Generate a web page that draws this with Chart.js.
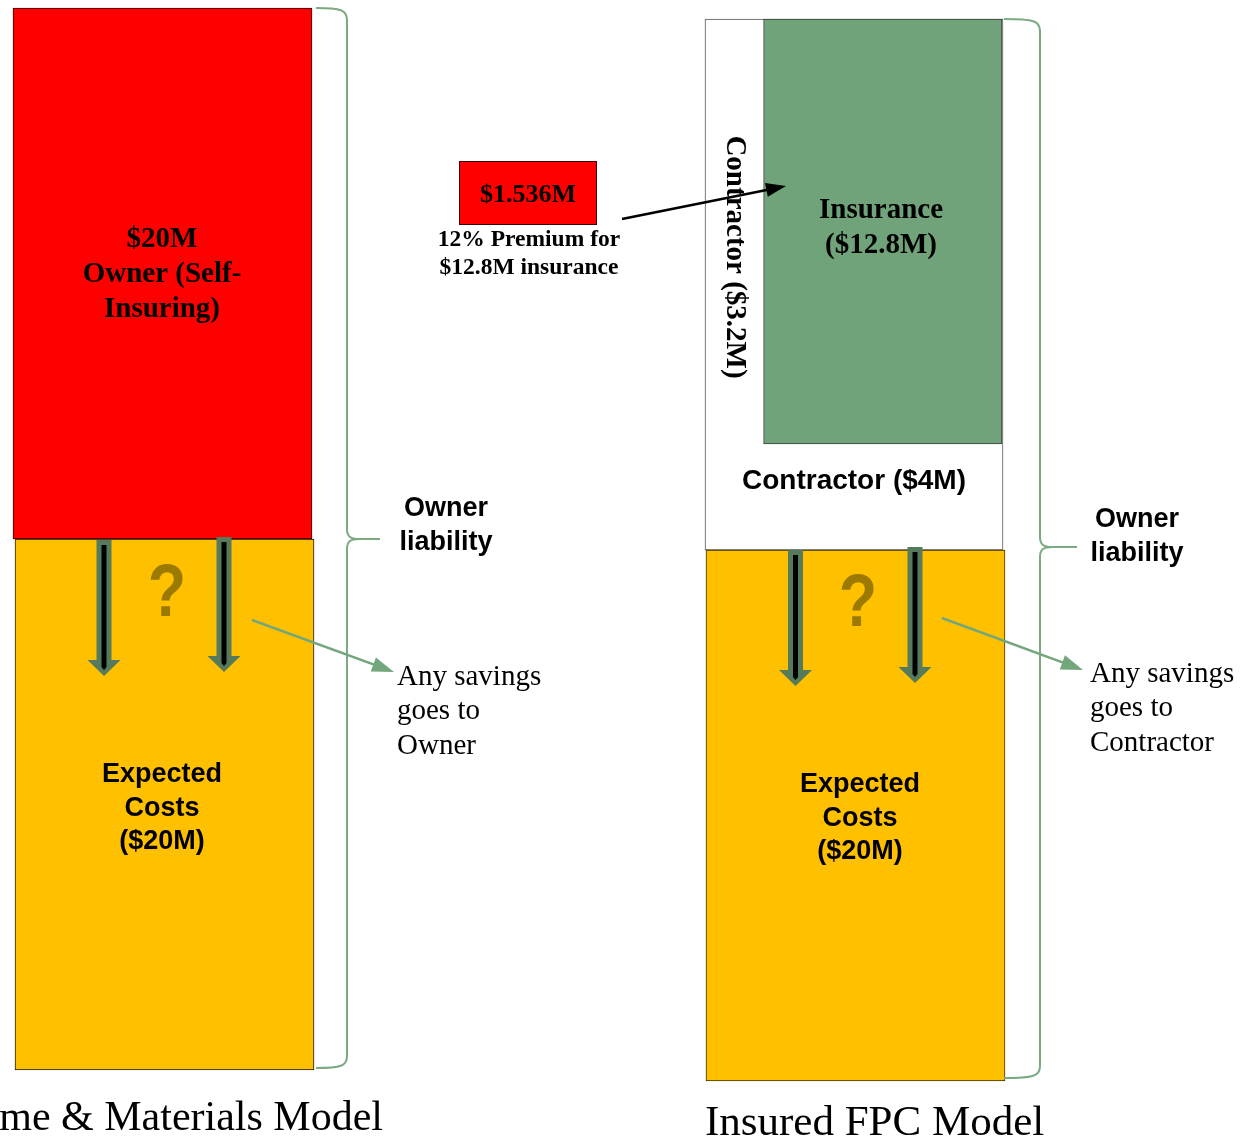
<!DOCTYPE html>
<html><head><meta charset="utf-8">
<script src="https://cdn.jsdelivr.net/npm/chart.js@4.4.1/dist/chart.umd.min.js"></script>
<style>html,body{margin:0;padding:0;background:#fff;overflow:hidden}canvas{display:block}</style>
</head><body>
<canvas id="c" width="1249" height="1140"></canvas>
<script>
// ---- data ($M) ----
const models = ['Time & Materials Model', 'Insured FPC Model'];
const expectedCosts = [20, 20];
const ownerSelfInsured = [20, 0];
const contractorFee = [0, 4];
const contractorRisk = [0, 3.2];
const insuredRisk = [0, 12.8];
const premiumRate = 0.12;
const premium = 1.536;
const savingsTo = ['Owner', 'Contractor'];

// ---- layout ----
const W = 1249, H = 1140;
const unit = 1062 / 40;                 // px per $M
const topPx = [8, 19];                  // top of each column
const totalL = expectedCosts[0] + ownerSelfInsured[0];
const totalR = expectedCosts[1] + contractorFee[1] + contractorRisk[1] + insuredRisk[1];
const yMaxL = totalL + topPx[0] / unit, yMinL = yMaxL - H / unit;
const yMaxR = totalR + topPx[1] / unit, yMinR = yMaxR - H / unit;

const colW = 299;
const blockLeft = 705, blockW = 298;
const insW = blockW * insuredRisk[1] / (contractorRisk[1] + insuredRisk[1]);
const insCenter = blockLeft + blockW - 1 - insW / 2;

const YELLOW = '#FFC000', RED = '#FF0000', GREEN = '#71A37A';

// lower "order" is drawn on top
const datasets = [
  { label: 'Insurance', order: 0, data: [{x: insCenter, y: [expectedCosts[1] + contractorFee[1], totalR]}], yAxisID: 'y2',
    backgroundColor: GREEN, borderColor: '#3c3c3c', barThickness: insW },
  { label: 'Contractor', order: 1, data: [{x: blockLeft + blockW / 2, y: [expectedCosts[1], totalR]}], yAxisID: 'y2',
    backgroundColor: '#FFFFFF', borderColor: '#555555', barThickness: blockW },
  { label: 'Expected Costs', order: 2, data: [{x: 855.5, y: [0, expectedCosts[1]]}], yAxisID: 'y2',
    backgroundColor: YELLOW, borderColor: '#3a3000', barThickness: colW },
  { label: 'Owner (Self-Insuring)', order: 2, data: [{x: 162.5, y: [expectedCosts[0], expectedCosts[0] + ownerSelfInsured[0]]}], yAxisID: 'y',
    backgroundColor: RED, borderColor: '#3a0000', barThickness: colW },
  { label: 'Expected Costs', order: 3, data: [{x: 164.5, y: [0, expectedCosts[0]]}], yAxisID: 'y',
    backgroundColor: YELLOW, borderColor: '#1a1a1a', barThickness: colW }
].map(d => Object.assign(d, { borderWidth: 1, borderSkipped: false, grouped: false }));

function brace(ctx, xs, xv, xt, top, mid, bot) {
  ctx.beginPath();
  ctx.moveTo(xs, top);
  ctx.bezierCurveTo(xv - 6, top, xv, top + 2, xv, top + 12);
  ctx.lineTo(xv, mid - 10);
  ctx.bezierCurveTo(xv, mid - 2, xv + 4, mid, xv + 12, mid);
  ctx.lineTo(xt, mid);
  ctx.moveTo(xv + 12, mid);
  ctx.bezierCurveTo(xv + 4, mid, xv, mid + 2, xv, mid + 10);
  ctx.lineTo(xv, bot - 12);
  ctx.bezierCurveTo(xv, bot - 2, xv - 6, bot, xs, bot);
  ctx.stroke();
}
function arrow(ctx, x1, y1, x2, y2, color, lw, hl, hw) {
  const a = Math.atan2(y2 - y1, x2 - x1);
  ctx.save();
  ctx.strokeStyle = color; ctx.fillStyle = color; ctx.lineWidth = lw;
  ctx.beginPath(); ctx.moveTo(x1, y1);
  ctx.lineTo(x2 - Math.cos(a) * hl * 0.8, y2 - Math.sin(a) * hl * 0.8); ctx.stroke();
  ctx.translate(x2, y2); ctx.rotate(a);
  ctx.beginPath(); ctx.moveTo(0, 0); ctx.lineTo(-hl, -hw / 2); ctx.lineTo(-hl, hw / 2); ctx.closePath(); ctx.fill();
  ctx.restore();
}
function downArrow(ctx, x, top, tip) {
  const headH = 16, headW = 33, sw = 15;
  ctx.fillStyle = '#557A5C';
  ctx.fillRect(x - sw / 2, top, sw, tip - headH - top + 1);
  ctx.beginPath(); ctx.moveTo(x - headW / 2, tip - headH); ctx.lineTo(x + headW / 2, tip - headH); ctx.lineTo(x, tip); ctx.closePath(); ctx.fill();
  ctx.fillStyle = '#000';
  ctx.fillRect(x - 2.5, top + 5, 5, tip - top - 14);
  ctx.beginPath(); ctx.moveTo(x - 2.5, tip - 9); ctx.lineTo(x + 2.5, tip - 9); ctx.lineTo(x, tip - 6); ctx.closePath(); ctx.fill();
}
function lines(ctx, arr, x, y0, lh) { arr.forEach((t, i) => ctx.fillText(t, x, y0 + i * lh)); }
function question(ctx, x, y) {
  ctx.save(); ctx.translate(x, y); ctx.scale(0.85, 1);
  ctx.fillStyle = '#9C7A00'; ctx.font = 'bold 74px "Liberation Sans", Arial, sans-serif';
  ctx.textAlign = 'center'; ctx.textBaseline = 'middle';
  ctx.fillText('?', 0, 0); ctx.restore();
}

const SERIF = '"Liberation Serif", "Times New Roman", serif';
const SANS = '"Liberation Sans", Arial, sans-serif';

const overlay = {
  id: 'overlay',
  afterDatasetsDraw(chart) {
    const ctx = chart.ctx, y = chart.scales.y, y2 = chart.scales.y2;
    ctx.save();
    // braces
    ctx.strokeStyle = '#7AA982'; ctx.lineWidth = 2;
    brace(ctx, 316, 347, 380, y.getPixelForValue(totalL), y.getPixelForValue(expectedCosts[0]), y.getPixelForValue(0) - 2);
    brace(ctx, 1004, 1040, 1077, y2.getPixelForValue(totalR), y2.getPixelForValue(expectedCosts[1]) - 3, y2.getPixelForValue(0) - 3);
    // down arrows + question marks
    downArrow(ctx, 104, 540, 676); downArrow(ctx, 224, 537, 672);
    downArrow(ctx, 795.5, 550, 686); downArrow(ctx, 915, 547, 683);
    question(ctx, 167, 596); question(ctx, 858, 606);
    // pointer arrows
    arrow(ctx, 252, 620, 394, 672, '#74A67C', 2.5, 22, 15);
    arrow(ctx, 942, 618, 1083, 670, '#74A67C', 2.5, 22, 15);
    // premium box
    ctx.fillStyle = RED; ctx.fillRect(459, 161, 138, 64);
    ctx.strokeStyle = '#3a0000'; ctx.lineWidth = 1; ctx.strokeRect(459.5, 161.5, 137, 63);
    arrow(ctx, 622, 219, 786, 186, '#000', 2.5, 20, 14);

    ctx.fillStyle = '#000'; ctx.textAlign = 'center'; ctx.textBaseline = 'middle';
    ctx.font = 'bold 26px ' + SERIF;
    ctx.fillText('$' + premium + 'M', 528, 195);
    ctx.font = 'bold 23.5px ' + SERIF;
    lines(ctx, [Math.round(premiumRate * 100) + '% Premium for', '$' + insuredRisk[1] + 'M insurance'], 529, 240, 28);
    ctx.font = 'bold 29px ' + SERIF;
    lines(ctx, ['$' + ownerSelfInsured[0] + 'M', 'Owner (Self-', 'Insuring)'], 162, 240, 35);
    lines(ctx, ['Insurance', '($' + insuredRisk[1] + 'M)'], 881, 211, 35);
    ctx.save(); ctx.translate(734, 257); ctx.rotate(Math.PI / 2);
    ctx.fillText('Contractor ($' + contractorRisk[1] + 'M)', 0, 0); ctx.restore();

    ctx.font = 'bold 28px ' + SANS;
    ctx.fillText('Contractor ($' + contractorFee[1] + 'M)', 854, 481);
    ctx.font = 'bold 27px ' + SANS;
    lines(ctx, ['Expected', 'Costs', '($' + expectedCosts[0] + 'M)'], 162, 775, 33.5);
    lines(ctx, ['Expected', 'Costs', '($' + expectedCosts[1] + 'M)'], 860, 785, 33.5);
    lines(ctx, ['Owner', 'liability'], 446, 509, 34);
    lines(ctx, ['Owner', 'liability'], 1137, 520, 34);

    ctx.textAlign = 'left';
    ctx.font = '29px ' + SERIF;
    lines(ctx, ['Any savings', 'goes to', savingsTo[0]], 397, 677, 34.5);
    lines(ctx, ['Any savings', 'goes to', savingsTo[1]], 1090, 674, 34.5);

    ctx.textBaseline = 'alphabetic';
    ctx.textAlign = 'right'; ctx.font = '42px ' + SERIF;
    ctx.fillText(models[0], 383, 1130);
    ctx.textAlign = 'left'; ctx.font = '43px ' + SERIF;
    ctx.fillText(models[1], 705, 1135);
    ctx.restore();
  }
};

new Chart(document.getElementById('c'), {
  type: 'bar',
  data: { datasets },
  options: {
    responsive: false, maintainAspectRatio: false, animation: false, devicePixelRatio: 1,
    events: [],
    layout: { padding: 0 },
    plugins: { legend: { display: false }, tooltip: { enabled: false } },
    scales: {
      x: { type: 'linear', min: 0, max: W, display: false, offset: false },
      y: { type: 'linear', min: yMinL, max: yMaxL, display: false },
      y2: { type: 'linear', min: yMinR, max: yMaxR, display: false }
    }
  },
  plugins: [overlay]
});
</script>
</body></html>
